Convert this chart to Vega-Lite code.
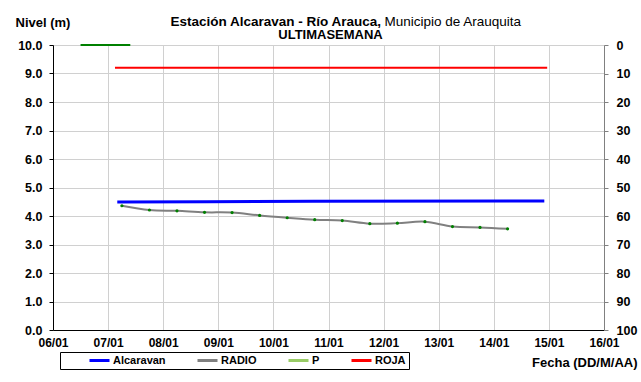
{
  "$schema": "https://vega.github.io/schema/vega-lite/v6.json",
  "width": 551,
  "height": 285,
  "autosize": {"type": "none"},
  "padding": {"left": 53, "top": 45, "right": 37, "bottom": 52},
  "background": "white",
  "title": {"text": "ULTIMASEMANA", "anchor": "middle", "dx": 2, "dy": 34, "offset": 6, "fontSize": 13, "fontWeight": "bold", "font": "Liberation Sans", "color": "black"},
  "datasets": {
    "alcaravan": [
      {"serie": "Alcaravan", "fecha": "2015-01-07T04:00:00", "nivel": 4.49},
      {"serie": "Alcaravan", "fecha": "2015-01-08T19:00:00", "nivel": 4.5},
      {"serie": "Alcaravan", "fecha": "2015-01-10T17:00:00", "nivel": 4.52},
      {"serie": "Alcaravan", "fecha": "2015-01-14T22:00:00", "nivel": 4.53}
    ],
    "radio": [
      {"serie": "RADIO", "fecha": "2015-01-07T06:00:00", "nivel": 4.36},
      {"serie": "RADIO", "fecha": "2015-01-07T18:00:00", "nivel": 4.21},
      {"serie": "RADIO", "fecha": "2015-01-08T06:00:00", "nivel": 4.18},
      {"serie": "RADIO", "fecha": "2015-01-08T18:00:00", "nivel": 4.13},
      {"serie": "RADIO", "fecha": "2015-01-09T06:00:00", "nivel": 4.12},
      {"serie": "RADIO", "fecha": "2015-01-09T18:00:00", "nivel": 4.02},
      {"serie": "RADIO", "fecha": "2015-01-10T06:00:00", "nivel": 3.94},
      {"serie": "RADIO", "fecha": "2015-01-10T18:00:00", "nivel": 3.87},
      {"serie": "RADIO", "fecha": "2015-01-11T06:00:00", "nivel": 3.84},
      {"serie": "RADIO", "fecha": "2015-01-11T18:00:00", "nivel": 3.73},
      {"serie": "RADIO", "fecha": "2015-01-12T06:00:00", "nivel": 3.75},
      {"serie": "RADIO", "fecha": "2015-01-12T18:00:00", "nivel": 3.8},
      {"serie": "RADIO", "fecha": "2015-01-13T06:00:00", "nivel": 3.63},
      {"serie": "RADIO", "fecha": "2015-01-13T18:00:00", "nivel": 3.6},
      {"serie": "RADIO", "fecha": "2015-01-14T06:00:00", "nivel": 3.55}
    ],
    "roja": [
      {"serie": "ROJA", "fecha": "2015-01-07T03:00:00", "nivel": 9.2},
      {"serie": "ROJA", "fecha": "2015-01-14T23:15:00", "nivel": 9.2}
    ],
    "p": [
      {"serie": "P", "fecha": "2015-01-06T12:00:00", "precip": 0},
      {"serie": "P", "fecha": "2015-01-07T09:40:00", "precip": 0}
    ]
  },
  "encoding": {
    "x": {
      "field": "fecha", "type": "temporal",
      "scale": {"domain": [{"year": 2015, "month": 1, "date": 6}, {"year": 2015, "month": 1, "date": 16}], "nice": false},
      "axis": {
        "orient": "bottom",
        "title": "Fecha (DD/M/AA)", "titleX": 584, "titleY": 32, "titleAlign": "right", "titleBaseline": "middle",
        "titleFontSize": 13, "titleFontWeight": "bold", "titleColor": "black",
        "format": "%d/%m", "tickCount": {"interval": "day", "step": 1},
        "labelFontSize": 12, "labelFontWeight": "bold", "labelColor": "black", "labelPadding": 292,
        "labelFlush": false, "labelBound": false, "labelOverlap": false,
        "ticks": true, "tickSize": -285, "tickColor": "#d0d0d0", "tickWidth": 1,
        "domainColor": "black", "domainWidth": 1, "grid": false, "zindex": 0
      }
    },
    "color": {
      "field": "serie", "type": "nominal",
      "scale": {"domain": ["Alcaravan", "RADIO", "P", "ROJA"], "range": ["#0000ff", "#808080", "#99cc66", "#ff0000"]},
      "legend": {
        "title": " ", "titleOrient": "left", "titlePadding": 25,
        "orient": "none", "legendX": 7, "legendY": 307, "direction": "horizontal", "columns": 4, "gridAlign": "none",
        "symbolType": "stroke", "symbolSize": 400, "symbolStrokeWidth": 3, "clipHeight": 11,
        "labelFontSize": 11, "labelFontWeight": "bold", "labelColor": "black", "labelOffset": 2,
        "columnPadding": 30, "padding": 3, "strokeColor": "black", "fillColor": "white"
      }
    }
  },
  "layer": [
    {
      "data": {"name": "roja"},
      "mark": {"type": "line", "strokeWidth": 2},
      "encoding": {
        "y": {
          "field": "nivel", "type": "quantitative",
          "scale": {"domain": [0, 10], "nice": false},
          "axis": {
            "orient": "left",
            "title": "Estación Alcaravan - Río Arauca,", "titleAngle": 0, "titleX": 117, "titleY": -24, "titleAlign": "left", "titleBaseline": "middle",
            "titleFontSize": 13.5, "titleFontWeight": "bold", "titleColor": "black",
            "values": [1, 2, 3, 4, 5, 6, 7, 8, 9, 10],
            "labels": false, "domain": false, "grid": false,
            "ticks": true, "tickSize": -551, "tickColor": "#d0d0d0", "tickWidth": 1, "zindex": 0
          }
        }
      }
    },
    {
      "encoding": {
        "y": {
          "field": "nivel", "type": "quantitative",
          "scale": {"domain": [0, 10], "nice": false},
          "axis": {
            "orient": "left",
            "title": "Nivel (m)", "titleAngle": 0, "titleX": -38, "titleY": -23, "titleAlign": "left", "titleBaseline": "middle",
            "titleFontSize": 13, "titleFontWeight": "bold", "titleColor": "black",
            "values": [0, 1, 2, 3, 4, 5, 6, 7, 8, 9, 10], "format": ".1f",
            "labelFontSize": 12.5, "labelFontWeight": "bold", "labelColor": "black", "labelPadding": 7,
            "tickSize": 4, "tickColor": "black", "domainColor": "black", "domainWidth": 1,
            "grid": false, "zindex": 1
          }
        }
      },
      "layer": [
        {
          "data": {"name": "alcaravan"},
          "mark": {"type": "line", "strokeWidth": 3}
        },
        {
          "data": {"name": "radio"},
          "mark": {"type": "line", "strokeWidth": 2, "interpolate": "catmull-rom"}
        },
        {
          "data": {"name": "radio"},
          "mark": {"type": "circle", "size": 10, "opacity": 1},
          "encoding": {"color": {"value": "#008000"}}
        }
      ]
    },
    {
      "data": {"name": "p"},
      "mark": {"type": "line", "strokeWidth": 2, "clip": false},
      "encoding": {
        "color": {"value": "#008000"},
        "y": {
          "field": "precip", "type": "quantitative",
          "scale": {"domain": [0, 100], "reverse": true, "nice": false},
          "axis": {
            "orient": "right",
            "title": "Municipio de Arauquita", "titleAngle": 0, "titleX": -220, "titleY": -24, "titleAlign": "left", "titleBaseline": "middle",
            "titleFontSize": 13.5, "titleFontWeight": "normal", "titleColor": "black",
            "values": [0, 10, 20, 30, 40, 50, 60, 70, 80, 90, 100],
            "labelFontSize": 12.5, "labelFontWeight": "bold", "labelColor": "black", "labelPadding": 8,
            "tickSize": 4, "tickColor": "#808080", "domainColor": "#808080", "grid": false, "zindex": 1
          }
        }
      }
    }
  ],
  "resolve": {"scale": {"y": "independent"}},
  "config": {
    "font": "Liberation Sans",
    "view": {"stroke": null}
  }
}
